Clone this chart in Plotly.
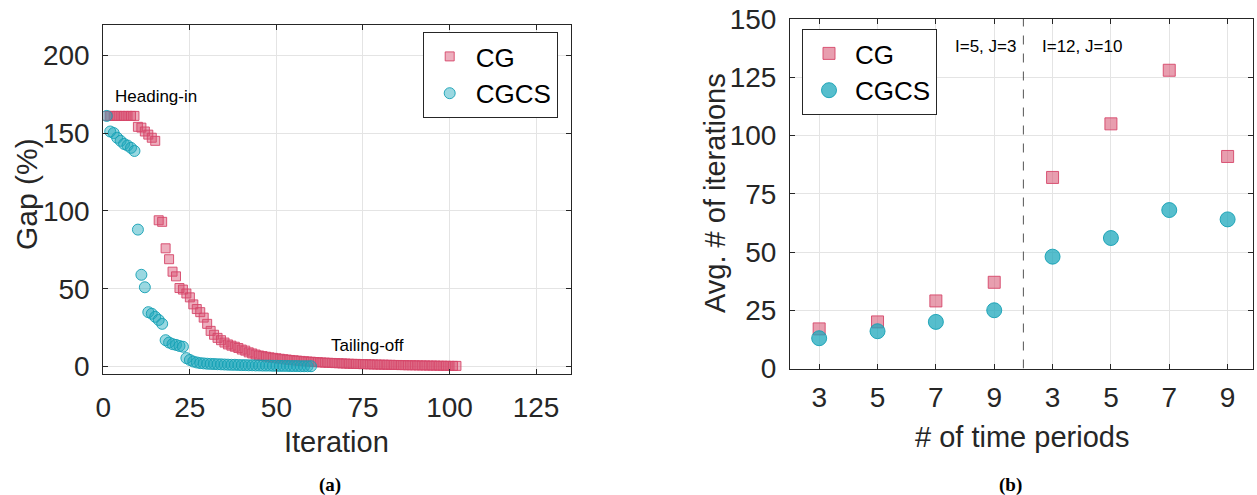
import plotly.graph_objects as go

# ---------------- data ----------------
# (a) gap per iteration
cg_gap = [161, 161, 161, 161, 161, 161, 161, 161, 161,
          154, 153.5, 151, 149, 147, 145, 94, 93, 76, 69, 61, 58,
          50.5, 49.5, 47, 44.5, 40, 37, 35, 31.5, 27.5, 23, 20.5, 18.5, 17, 15.5,
          14.3, 13.5, 12.8, 12, 11, 10.3,
          9.2, 8.5, 7.8, 7.2, 6.8, 6.4, 6.0, 5.7, 5.4, 5.1, 4.8, 4.6, 4.3, 4.1,
          3.9, 3.7, 3.5, 3.3, 3.2, 3.0, 2.9, 2.7, 2.6, 2.5, 2.4, 2.3, 2.2, 2.1,
          2.0, 1.9, 1.8, 1.8, 1.7, 1.6, 1.6, 1.5, 1.4, 1.4, 1.3, 1.3, 1.2, 1.2,
          1.1, 1.1, 1.0, 1.0, 0.9, 0.9, 0.9, 0.8, 0.8, 0.8, 0.7, 0.7, 0.7, 0.6,
          0.6, 0.6, 0.5, 0.5, 0.5]
cgcs_gap = [161, 151, 150, 147, 145, 143, 142, 140.5, 138.5,
            88, 59, 51, 35, 34, 32, 30, 27.5, 17, 15.5, 14.5, 14, 13.3, 12.8,
            5.5, 4.3, 3.3, 2.7,
            2.3, 2.1, 1.9, 1.8, 1.7, 1.6, 1.5, 1.4, 1.3, 1.2, 1.2, 1.1, 1.0,
            1.0, 0.9, 0.9, 0.8, 0.8, 0.7, 0.7, 0.7, 0.6, 0.6, 0.5, 0.5, 0.5,
            0.4, 0.4, 0.4, 0.3, 0.3, 0.3, 0.3]
cg_iter = list(range(1, len(cg_gap) + 1))
cgcs_iter = list(range(1, len(cgcs_gap) + 1))

# (b) average iterations per instance group
period_labels = ["3", "5", "7", "9", "3", "5", "7", "9"]
group_labels = ["I=5, J=3", "I=12, J=10"]
cg_avg = [17, 20, 29, 37, 82, 105, 128, 91]
cgcs_avg = [13, 16, 20, 25, 48, 56, 68, 64]
positions = list(range(1, len(period_labels) + 1))

# ---------------- styling ----------------
W, H = 1257, 495
FONT = "Liberation Sans"
DARK = "#262626"
CG_FILL = "rgba(214,78,110,0.45)"
CG_EDGE = "rgba(214,70,105,0.9)"
CS_FILL = "rgba(30,168,188,0.45)"
CS_EDGE = "rgba(20,160,180,0.9)"


def px(x):
    return x / W


def py(y):
    return 1 - y / H


fig = go.Figure()

fig.add_trace(go.Scatter(x=cg_iter, y=cg_gap, mode="markers", name="CG",
                         marker=dict(symbol="square", size=9, color=CG_FILL,
                                     line=dict(color=CG_EDGE, width=1)),
                         xaxis="x", yaxis="y", legend="legend"))
fig.add_trace(go.Scatter(x=cgcs_iter, y=cgcs_gap, mode="markers", name="CGCS",
                         marker=dict(symbol="circle", size=11, color=CS_FILL,
                                     line=dict(color=CS_EDGE, width=1)),
                         xaxis="x", yaxis="y", legend="legend"))

fig.add_trace(go.Scatter(x=positions, y=cg_avg, mode="markers", name="CG",
                         marker=dict(symbol="square", size=12, color="rgba(214,78,110,0.55)",
                                     line=dict(color=CG_EDGE, width=1)),
                         xaxis="x2", yaxis="y2", legend="legend2"))
fig.add_trace(go.Scatter(x=positions, y=cgcs_avg, mode="markers", name="CGCS",
                         marker=dict(symbol="circle", size=15, color="rgba(30,168,188,0.75)",
                                     line=dict(color=CS_EDGE, width=1)),
                         xaxis="x2", yaxis="y2", legend="legend2"))

axis_common = dict(showline=True, linecolor=DARK, linewidth=1, mirror="ticks",
                   ticks="inside", ticklen=5, tickcolor=DARK, showgrid=True,
                   gridcolor="#E4E4E4", gridwidth=1, zeroline=False,
                   automargin=False,
                   tickfont=dict(family=FONT, size=28, color=DARK))

fig.update_layout(
    template="none",
    width=W, height=H, margin=dict(l=0, r=0, t=0, b=0, pad=0),
    paper_bgcolor="white", plot_bgcolor="white",
    font=dict(family=FONT, color=DARK),
    xaxis=dict(domain=[px(103.3), px(570.7)], range=[0, 135],
               tickvals=[0, 25, 50, 75, 100, 125], anchor="y",
               ticklabelstandoff=8, **axis_common),
    yaxis=dict(domain=[py(374), py(24.5)], range=[-4.7, 219.7],
               tickvals=[0, 50, 100, 150, 200], anchor="x",
               ticklabelstandoff=7, **axis_common),
    xaxis2=dict(domain=[px(790), px(1252.7)], range=[0.5, 8.43],
                tickvals=positions, ticktext=period_labels, anchor="y2",
                ticklabelstandoff=4, **axis_common),
    yaxis2=dict(domain=[py(368.5), py(19)], range=[0, 150],
                tickvals=[0, 25, 50, 75, 100, 125, 150], anchor="x2",
                ticklabelstandoff=7, **axis_common),
    legend=dict(x=px(422.7), y=py(32), xanchor="left", yanchor="top",
                bgcolor="white", bordercolor=DARK, borderwidth=1,
                font=dict(family=FONT, size=26, color="black"),
                itemsizing="trace", itemwidth=42),
    legend2=dict(x=px(802), y=py(29), xanchor="left", yanchor="top",
                 bgcolor="white", bordercolor=DARK, borderwidth=1,
                 font=dict(family=FONT, size=26, color="black"),
                 itemsizing="trace", itemwidth=42),
)

# dashed separator between the two instance groups
fig.add_shape(type="line", xref="x2", yref="y2", x0=4.5, x1=4.5, y0=0, y1=150,
              line=dict(color="#555555", width=1, dash="dash"))

ann = [
    dict(text="Gap (%)", x=px(26), y=py(194), textangle=-90, size=30),
    dict(text="Iteration", x=px(336), y=py(442), size=29),
    dict(text="Avg. # of iterations", x=px(715), y=py(193), textangle=-90, size=29),
    dict(text="# of time periods", x=px(1022), y=py(437), size=29),
    dict(text="Heading-in", x=px(156), y=py(96), size=17, color="black"),
    dict(text="Tailing-off", x=px(367), y=py(345), size=17, color="black"),
    dict(text=group_labels[0], x=px(985.5), y=py(47), size=17, color="black"),
    dict(text=group_labels[1], x=px(1082), y=py(47), size=17, color="black"),
]
for a in ann:
    fig.add_annotation(text=a["text"], x=a["x"], y=a["y"], xref="paper", yref="paper",
                       xanchor="center", yanchor="middle", showarrow=False,
                       textangle=a.get("textangle", 0),
                       font=dict(family=FONT, size=a["size"], color=a.get("color", DARK)))

for lab, xc in (("(a)", 330), ("(b)", 1010)):
    fig.add_annotation(text="<b>" + lab + "</b>", x=px(xc), y=py(485), xref="paper",
                       yref="paper", xanchor="center", yanchor="middle", showarrow=False,
                       font=dict(family="Liberation Serif", size=19, color="black"))

fig.write_html("out.html", config={"displayModeBar": False},
               post_script="document.body.style.margin='0';"
                           "document.body.style.overflow='hidden';")
